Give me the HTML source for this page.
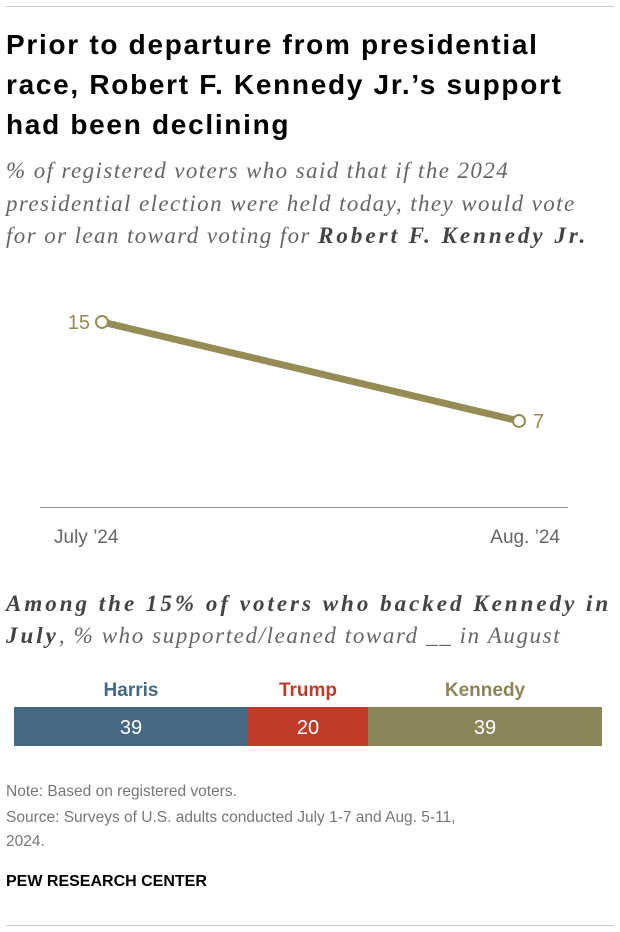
<!DOCTYPE html>
<html><head><meta charset="utf-8"><style>
body{margin:0;width:620px;height:932px;background:#fff;font-family:"Liberation Sans",sans-serif;position:relative;overflow:hidden}
.t{position:absolute;margin:0;white-space:nowrap}
#title{left:6px;top:25px;font-size:28px;font-weight:bold;line-height:40px;color:#000;letter-spacing:1.7px}
#sub{left:6px;top:155px;font-family:"Liberation Serif",serif;font-style:italic;font-size:23px;line-height:32.5px;color:#666;letter-spacing:1.4px}
#sub2{left:6px;top:588px;font-family:"Liberation Serif",serif;font-style:italic;font-size:23px;line-height:32px;color:#666;letter-spacing:1.6px}
.t b{letter-spacing:3px;color:#444}
.note{left:6px;font-size:15.5px;color:#777;line-height:24px}
#brand{left:6px;top:873px;font-size:16px;font-weight:bold;color:#000}
</style></head><body>
<div style="position:absolute;left:6px;right:6px;top:6px;height:1px;background:#ccc"></div>
<h1 class="t" id="title">Prior to departure from presidential<br>race, Robert F. Kennedy Jr.’s support<br>had been declining</h1>
<p class="t" id="sub">% of registered voters who said that if the 2024<br>presidential election were held today, they would vote<br>for or lean toward voting for <b>Robert F. Kennedy Jr.</b></p>
<svg id="line" style="position:absolute;left:0;top:280px" width="620" height="280"></svg>
<p class="t" id="sub2"><b>Among the 15% of voters who backed Kennedy in</b><br><b>July</b>, % who supported/leaned toward __ in August</p>
<svg id="bar" style="position:absolute;left:0;top:670px" width="620" height="90"></svg>
<p class="t note" style="top:780px">Note: Based on registered voters.</p>
<p class="t note" style="top:806px">Source: Surveys of U.S. adults conducted July 1-7 and Aug. 5-11,<br>2024.</p>
<p class="t" id="brand">PEW RESEARCH CENTER</p>
<div style="position:absolute;left:6px;right:6px;top:925px;height:1px;background:#ccc"></div>
<script>
const lineCats=["July \u201924","Aug. \u201924"];
const lineVals=[15,7];
const barCats=["Harris","Trump","Kennedy"];
const barVals=[39,20,39];
const barColors=["#466a83","#c23b29","#8c8558"];
const NS="http://www.w3.org/2000/svg";
function mk(p,t,a){const e=document.createElementNS(NS,t);for(const k in a)e.setAttribute(k,a[k]);p.appendChild(e);return e;}
const L=document.getElementById('line');
const x=i=>102+i*(519-102)/(lineCats.length-1);
const y=v=>227.6-v*12.375;
let bl=mk(L,'line',{x1:40,x2:568,y1:227.5,y2:227.5,stroke:'#999','stroke-width':1});


let pl=mk(L,'polyline',{points:lineVals.map((v,i)=>x(i)+','+y(v)).join(' '),fill:'none',stroke:'#948b55','stroke-width':7,'stroke-linecap':'round'});


lineVals.forEach((v,i)=>{
 let c=mk(L,'circle',{cx:x(i),cy:y(v),r:6,fill:'#fff',stroke:'#948b55','stroke-width':2});
 
 
 let t=mk(L,'text',{x:i==0?x(i)-12:x(i)+14,y:y(v)+7,'text-anchor':i==0?'end':'start','font-size':20,fill:'#948b55'});
 t.textContent=v;
 
 
 let xl=mk(L,'text',{x:i==0?54:560,y:263,'text-anchor':i==0?'start':'end','font-size':19,fill:'#666'});
 xl.textContent=lineCats[i];
 
 
});
const B=document.getElementById('bar');
let cum=0;const s=6;
barVals.forEach((v,i)=>{
 const x0=14+cum*s,w=v*s;cum+=v;
 let r=mk(B,'rect',{x:x0,y:37,width:w,height:39,fill:barColors[i]});
 
 
 let t=mk(B,'text',{x:x0+w/2,y:64,'text-anchor':'middle','font-size':20,fill:'#fff'});
 t.textContent=v;
 
 
 let h=mk(B,'text',{x:x0+w/2,y:26,'text-anchor':'middle','font-size':19,'font-weight':'bold',fill:barColors[i]});
 h.textContent=barCats[i];
 
 
});
</script>
</body></html>
